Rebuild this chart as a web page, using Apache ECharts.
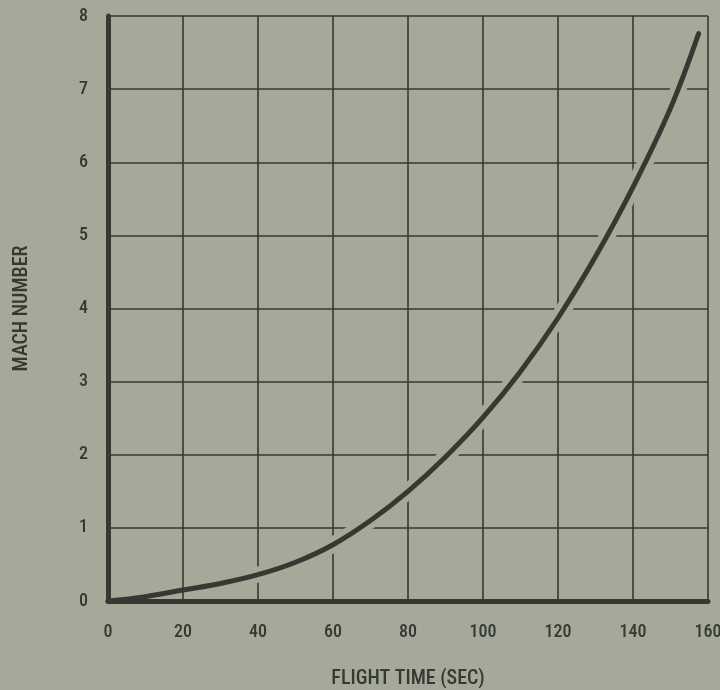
<!DOCTYPE html>
<html>
<head>
<meta charset="utf-8">
<script src="https://cdn.jsdelivr.net/npm/echarts@6/dist/echarts.min.js"></script>
<style>
  html, body { margin: 0; padding: 0; background: #a4a99a; }
  #chart { width: 720px; height: 690px; }
</style>
</head>
<body>
<div id="chart"></div>
<script>
// Flight time (s) and the Mach number reached at that time
const flightTime = [0, 10, 20, 30, 40, 50, 60, 70, 80, 90, 100, 110, 120, 130, 140, 150, 157.5];
const machNumber = [0, 0.06, 0.15, 0.24, 0.36, 0.53, 0.77, 1.10, 1.50, 1.97, 2.51, 3.14, 3.87, 4.71, 5.66, 6.74, 7.76];

const xTicks = [0, 20, 40, 60, 80, 100, 120, 140, 160];
const yTicks = [0, 1, 2, 3, 4, 5, 6, 7, 8];

const ink = '#363932';
const paper = '#a4a99a';
const font = '"Roboto Condensed", "Liberation Sans Narrow", "DejaVu Sans Condensed", sans-serif';

const curve = flightTime.map((t, i) => [t, machNumber[i]]);
// knock-out band that opens small gaps in the grid where the curve crosses it
const halo = curve.filter(p => p[0] >= 30);

const chart = echarts.init(document.getElementById('chart'), null, { renderer: 'canvas' });
chart.setOption({
  backgroundColor: paper,
  animation: false,
  grid: { left: 108, right: 12, top: 16, bottom: 89, containLabel: false, outerBoundsMode: 'none' },
  xAxis: {
    type: 'value',
    min: xTicks[0],
    max: xTicks[xTicks.length - 1],
    interval: 20,
    name: 'FLIGHT TIME (SEC)',
    nameLocation: 'middle',
    nameGap: 68,
    nameTextStyle: { color: ink, fontFamily: font, fontSize: 20, fontWeight: 500 },
    axisLine: { show: true, onZero: false, lineStyle: { color: ink, width: 5 } },
    axisTick: { show: false },
    axisLabel: { color: ink, fontFamily: font, fontSize: 18, fontWeight: 500, margin: 22 },
    splitLine: { show: true, lineStyle: { color: ink, width: 1.6 } }
  },
  yAxis: {
    type: 'value',
    min: yTicks[0],
    max: yTicks[yTicks.length - 1],
    interval: 1,
    name: 'MACH NUMBER',
    nameLocation: 'middle',
    nameRotate: 90,
    nameGap: 76,
    nameTextStyle: { color: ink, fontFamily: font, fontSize: 20, fontWeight: 500 },
    axisLine: { show: true, onZero: false, lineStyle: { color: ink, width: 5 } },
    axisTick: { show: false },
    axisLabel: { color: ink, fontFamily: font, fontSize: 18, fontWeight: 500, margin: 20 },
    splitLine: { show: true, lineStyle: { color: ink, width: 1.6 } }
  },
  series: [
    {
      type: 'line',
      data: halo,
      smooth: 0.4,
      symbol: 'none',
      silent: true,
      z: 5,
      lineStyle: { color: paper, width: 16, cap: 'round' }
    },
    {
      type: 'line',
      data: curve,
      smooth: 0.4,
      symbol: 'none',
      z: 6,
      lineStyle: { color: ink, width: 5, cap: 'round' }
    }
  ]
});
</script>
</body>
</html>
